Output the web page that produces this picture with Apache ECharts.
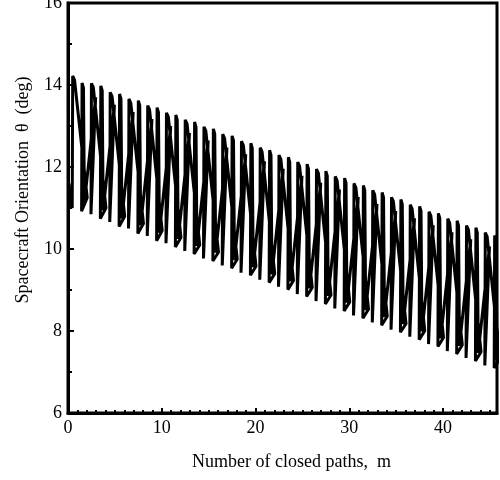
<html>
<head>
	<meta charset="utf-8">
	<title>Spacecraft Orientation</title>
	<script src="https://cdn.jsdelivr.net/npm/echarts@6/dist/echarts.min.js"></script>
	<style type="text/css">
		html, body { margin: 0; padding: 0; background: #fff; }
	</style>
</head>
	<body>
		<div id="eCharts-container" style="width:500px;height:480px"></div>
	<script type="text/javascript">
		// tick labels
		var xTicks = [0, 10, 20, 30, 40];
		var yTicks = [6, 8, 10, 12, 14, 16];
		// number of closed paths m
		var pathM = [
			0.10, 0.30,
			0.45, 0.50, 0.70, 2.05,
			1.45, 1.50, 1.65, 1.75, 2.95,
			2.45, 2.50, 2.70, 4.05,
			3.45, 3.50, 3.65, 3.75, 4.95,
			4.45, 4.50, 4.70, 6.05,
			5.45, 5.50, 5.65, 5.75, 6.95,
			6.45, 6.50, 6.70, 8.05,
			7.45, 7.50, 7.65, 7.75, 8.95,
			8.45, 8.50, 8.70, 10.05,
			9.45, 9.50, 9.65, 9.75, 10.95,
			10.45, 10.50, 10.70, 12.05,
			11.45, 11.50, 11.65, 11.75, 12.95,
			12.45, 12.50, 12.70, 14.05,
			13.45, 13.50, 13.65, 13.75, 14.95,
			14.45, 14.50, 14.70, 16.05,
			15.45, 15.50, 15.65, 15.75, 16.95,
			16.45, 16.50, 16.70, 18.05,
			17.45, 17.50, 17.65, 17.75, 18.95,
			18.45, 18.50, 18.70, 20.05,
			19.45, 19.50, 19.65, 19.75, 20.95,
			20.45, 20.50, 20.70, 22.05,
			21.45, 21.50, 21.65, 21.75, 22.95,
			22.45, 22.50, 22.70, 24.05,
			23.45, 23.50, 23.65, 23.75, 24.95,
			24.45, 24.50, 24.70, 26.05,
			25.45, 25.50, 25.65, 25.75, 26.95,
			26.45, 26.50, 26.70, 28.05,
			27.45, 27.50, 27.65, 27.75, 28.95,
			28.45, 28.50, 28.70, 30.05,
			29.45, 29.50, 29.65, 29.75, 30.95,
			30.45, 30.50, 30.70, 32.05,
			31.45, 31.50, 31.65, 31.75, 32.95,
			32.45, 32.50, 32.70, 34.05,
			33.45, 33.50, 33.65, 33.75, 34.95,
			34.45, 34.50, 34.70, 36.05,
			35.45, 35.50, 35.65, 35.75, 36.95,
			36.45, 36.50, 36.70, 38.05,
			37.45, 37.50, 37.65, 37.75, 38.95,
			38.45, 38.50, 38.70, 40.05,
			39.45, 39.50, 39.65, 39.75, 40.95,
			40.45, 40.50, 40.70, 42.05,
			41.45, 41.50, 41.65, 41.75, 42.95,
			42.45, 42.50, 42.70, 44.05,
			43.45, 43.50, 43.65, 43.75, 44.95,
			44.45, 44.50, 44.70, 46.05,
			45.45, 45.50, 45.65, 45.75, 46.95
		];
		// spacecraft orientation theta (deg)
		var theta = [
			11.60, 11.10,
			11.00, 14.22, 14.12, 11.25,
			10.92, 14.05, 13.93, 11.12, 13.70,
			10.85, 14.04, 13.94, 11.00,
			10.74, 13.98, 13.86, 10.94, 13.52,
			10.66, 13.82, 13.72, 10.80,
			10.55, 13.78, 13.66, 10.75, 13.34,
			10.50, 13.66, 13.56, 10.62,
			10.38, 13.62, 13.50, 10.58, 13.17,
			10.32, 13.50, 13.40, 10.45,
			10.20, 13.45, 13.33, 10.40, 13.00,
			10.14, 13.32, 13.22, 10.28,
			10.05, 13.27, 13.15, 10.25, 12.83,
			9.95, 13.15, 13.05, 10.10,
			9.88, 13.10, 12.98, 10.08, 12.65,
			9.77, 12.98, 12.88, 9.92,
			9.71, 12.93, 12.81, 9.91, 12.48,
			9.60, 12.80, 12.70, 9.75,
			9.53, 12.76, 12.64, 9.73, 12.31,
			9.42, 12.63, 12.53, 9.58,
			9.36, 12.58, 12.46, 9.56, 12.14,
			9.25, 12.47, 12.37, 9.40,
			9.18, 12.41, 12.29, 9.38, 11.96,
			9.08, 12.29, 12.19, 9.23,
			9.01, 12.24, 12.12, 9.21, 11.79,
			8.90, 12.12, 12.02, 9.06,
			8.84, 12.07, 11.95, 9.04, 11.62,
			8.73, 11.95, 11.85, 8.88,
			8.66, 11.90, 11.78, 8.86, 11.45,
			8.55, 11.77, 11.67, 8.71,
			8.49, 11.73, 11.61, 8.69, 11.27,
			8.38, 11.60, 11.50, 8.53,
			8.31, 11.55, 11.43, 8.51, 11.10,
			8.21, 11.43, 11.33, 8.36,
			8.14, 11.38, 11.26, 8.34, 10.93,
			8.03, 11.26, 11.16, 8.18,
			7.97, 11.21, 11.09, 8.17, 10.75,
			7.86, 11.08, 10.98, 8.01,
			7.79, 11.04, 10.92, 7.99, 10.58,
			7.68, 10.91, 10.81, 7.84,
			7.62, 10.87, 10.75, 7.82, 10.41,
			7.51, 10.74, 10.64, 7.66,
			7.44, 10.69, 10.57, 7.64, 10.24,
			7.34, 10.57, 10.47, 7.49,
			7.27, 10.52, 10.40, 7.47, 10.06,
			7.16, 10.40, 10.30, 7.31,
			7.10, 10.33, 10.21, 7.30, 9.90
		];

		var points = [];
		for (var i = 0; i < pathM.length; i++) {
			points.push([pathM[i], theta[i]]);
		}

		var font = 'Liberation Serif';
		var myChart = echarts.init(document.getElementById('eCharts-container'));
		var option = {
			animation: false,
			grid: { left: 68, right: 3, top: 3, bottom: 67, outerBoundsMode: 'none',
				show: true, borderColor: '#000', borderWidth: 3 },
			xAxis: {
				type: 'value',
				min: xTicks[0], max: 45.75, interval: 10,
				name: 'Number of closed paths,  m',
				nameLocation: 'middle', nameGap: 40,
				nameTextStyle: { fontFamily: font, fontSize: 18, color: '#000', padding: [0, 0, 0, 18] },
				axisLine: { lineStyle: { color: '#000', width: 3 } },
				axisTick: { inside: true, length: 5, lineStyle: { color: '#000', width: 2 } },
				minorTick: { show: true, splitNumber: 10, length: 3, lineStyle: { color: '#000', width: 2 } },
				axisLabel: { showMaxLabel: false, margin: 6, fontFamily: font, fontSize: 18, color: '#000',
					formatter: function (v) { return xTicks.indexOf(v) >= 0 ? v : ''; } },
				splitLine: { show: false }
			},
			yAxis: {
				type: 'value',
				min: yTicks[0], max: yTicks[yTicks.length - 1], interval: 2,
				name: 'Spacecraft Orientation  θ  (deg)',
				nameLocation: 'middle', nameGap: 36,
				nameTextStyle: { fontFamily: font, fontSize: 18, color: '#000', padding: [0, 0, 0, 36] },
				axisLine: { lineStyle: { color: '#000', width: 3 } },
				axisTick: { inside: true, length: 6, lineStyle: { color: '#000', width: 2 } },
				minorTick: { show: true, splitNumber: 2, length: 4, lineStyle: { color: '#000', width: 2 } },
				axisLabel: { margin: 6, fontFamily: font, fontSize: 18, color: '#000' },
				splitLine: { show: false }
			},
			series: [{
				type: 'line',
				data: points,
				showSymbol: false,
				clip: true,
				lineStyle: { color: '#000', width: 3 }
			}]
		};
		myChart.setOption(option);
	</script>
	</body>
</html>
